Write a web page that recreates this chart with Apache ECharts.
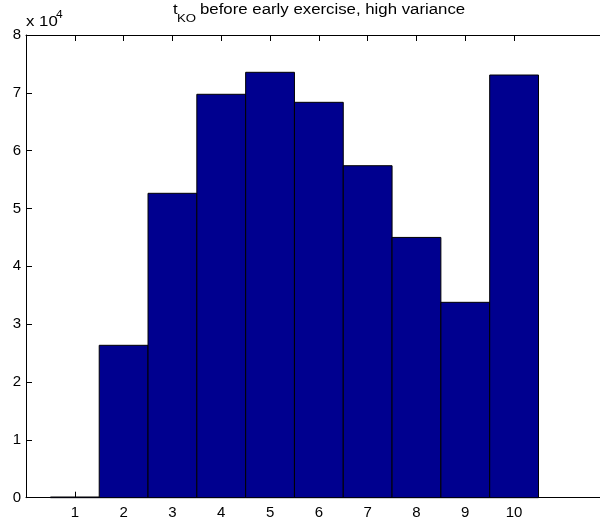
<!DOCTYPE html>
<html>
<head>
<meta charset="utf-8">
<script src="https://cdn.jsdelivr.net/npm/echarts@6/dist/echarts.min.js"></script>
<style>html,body{margin:0;padding:0;background:#fff;}#c{width:600px;height:523px;}</style>
</head>
<body>
<div id="c"></div>
<script>
const categories = [1, 2, 3, 4, 5, 6, 7, 8, 9, 10];
const counts = [120, 26350, 52630, 69750, 73550, 68360, 57400, 45000, 33780, 73080];
const yTicks = [0, 10000, 20000, 30000, 40000, 50000, 60000, 70000, 80000];

const FONT = "'Liberation Sans', Arial, Helvetica, sans-serif";
const chart = echarts.init(document.getElementById('c'), null, {renderer: 'canvas'});
const data = categories.map((c, i) => [c, counts[i]]);

const axisCommon = {
  type: 'value', min: 0, max: 11.76,
  axisLine: {show: true, onZero: false, lineStyle: {color: '#000', width: 1}},
  splitLine: {show: false},
  axisTick: {show: true, inside: true, length: 6, customValues: categories, lineStyle: {color: '#000'}}
};

function txt(x, y, text, size) {
  return {type: 'text', x: x, y: y, scaleX: 1.2, scaleY: 1,
    style: {text: text, font: size + 'px ' + FONT, fill: '#000', textVerticalAlign: 'top'}};
}

chart.setOption({
  animation: false,
  backgroundColor: '#fff',
  grid: {left: 26, top: 35, right: 0, bottom: 25.3},
  xAxis: [
    Object.assign({}, axisCommon, {
      position: 'bottom',
      axisLabel: {show: true, customValues: categories, margin: 8, color: '#000', fontSize: 15, fontFamily: FONT}
    }),
    Object.assign({}, axisCommon, {
      position: 'top',
      axisLabel: {show: false}
    })
  ],
  yAxis: {
    type: 'value', min: 0, max: 80000, interval: 10000,
    axisLine: {show: true, lineStyle: {color: '#000', width: 1}},
    splitLine: {show: false},
    axisTick: {show: true, inside: true, length: 6, lineStyle: {color: '#000'}},
    axisLabel: {color: '#000', fontSize: 15, fontFamily: FONT, margin: 5,
      customValues: yTicks,
      formatter: v => String(v / 10000)}
  },
  graphic: [
    txt(173, 3, 't', 14),
    txt(177, 13, 'KO', 11),
    txt(200, 3, 'before early exercise, high variance', 14),
    txt(26, 15, 'x 10', 14),
    txt(56, 10, '4', 10)
  ],
  series: [{
    type: 'custom',
    data: data,
    encode: {x: 0, y: 1},
    renderItem: function (params, api) {
      const x = api.value(0), y = api.value(1);
      const p0 = api.coord([x - 0.5, y]);
      const p1 = api.coord([x + 0.5, 0]);
      return {
        type: 'rect',
        shape: {x: p0[0], y: p0[1], width: p1[0] - p0[0], height: p1[1] - p0[1]},
        style: {fill: '#00008F', stroke: '#000', lineWidth: 1}
      };
    }
  }]
});
</script>
</body>
</html>
